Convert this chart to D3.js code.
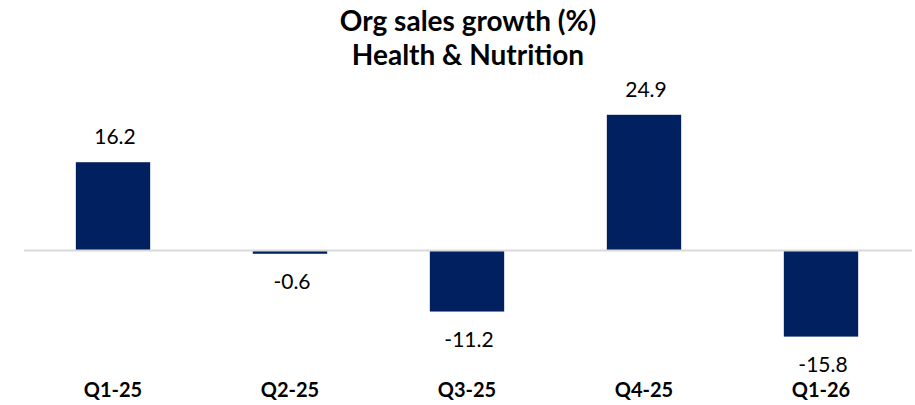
<!DOCTYPE html>
<html lang="en">

<head>
    <meta charset="UTF-8">
    <title>Org sales growth (%) - Health & Nutrition</title>
    <script src="https://d3js.org/d3.v7.min.js"></script>
    <style>
        body { margin: 0; background: #fff; }
        text { font-family: Lato, "Open Sans", sans-serif; }
    </style>
</head>

<body>
    <div id="chart"></div>

    <script>
        // data
        const quarters = ["Q1-25", "Q2-25", "Q3-25", "Q4-25", "Q1-26"];
        const growth = [16.2, -0.6, -11.2, 24.9, -15.8];
        const titleLines = ["Org sales growth (%)", "Health & Nutrition"];

        const width = 915;
        const height = 405;

        const svg = d3.select("#chart")
            .append("svg")
            .attr("width", width)
            .attr("height", height);

        const x = d3.scaleBand()
            .domain(quarters)
            .range([24.5, 909.5])
            .paddingInner(0.58)
            .paddingOuter(0.29);

        const y = d3.scaleLinear()
            .domain([-20, 30])
            .range([359.5, 87]);

        // title
        svg.append("g")
            .selectAll("text")
            .data(titleLines)
            .join("text")
            .attr("x", 468)
            .attr("y", (d, i) => 31 + i * 34)
            .attr("text-anchor", "middle")
            .attr("font-size", 28)
            .attr("font-weight", "bold")
            .attr("fill", "#000")
            .text(d => d);

        const data = quarters.map((q, i) => ({ q: q, v: growth[i] }));

        // bars
        svg.selectAll(".bar")
            .data(data)
            .join("rect")
            .attr("class", "bar")
            .attr("x", d => x(d.q))
            .attr("width", x.bandwidth())
            .attr("y", d => y(Math.max(0, d.v)))
            .attr("height", d => Math.abs(y(d.v) - y(0)))
            .attr("fill", "#002060");

        // zero line
        svg.append("line")
            .attr("x1", 24)
            .attr("x2", 912)
            .attr("y1", y(0))
            .attr("y2", y(0))
            .attr("stroke", "#d9d9d9")
            .attr("stroke-width", 2);

        // value labels
        svg.selectAll(".val")
            .data(data)
            .join("text")
            .attr("class", "val")
            .attr("x", d => x(d.q) + x.bandwidth() / 2 + 2)
            .attr("y", d => d.v >= 0 ? y(d.v) - 18 : y(d.v) + 35.5)
            .attr("text-anchor", "middle")
            .attr("font-size", 21)
            .attr("fill", "#000")
            .text(d => d.v.toFixed(1));

        // category labels
        const xAxis = svg.append("g")
            .attr("transform", "translate(0,397)")
            .call(d3.axisBottom(x).tickSize(0).tickPadding(0));
        xAxis.select(".domain").remove();
        xAxis.selectAll("text")
            .attr("dy", 0)
            .attr("font-size", 20)
            .attr("font-weight", "bold")
            .attr("font-family", "Lato, 'Open Sans', sans-serif")
            .attr("fill", "#000");
    </script>
</body>

</html>
